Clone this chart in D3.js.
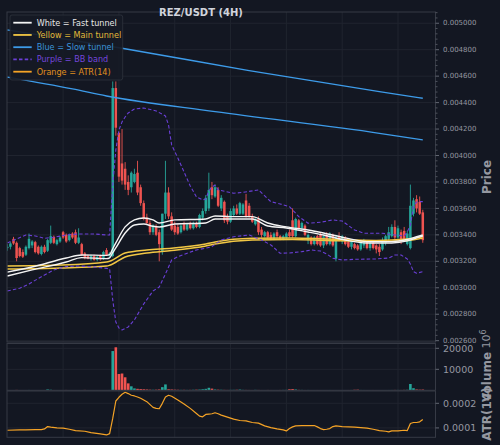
<!DOCTYPE html>
<html><head><meta charset="utf-8">
<script src="https://cdn.jsdelivr.net/npm/d3@7"></script>
<style>html,body{margin:0;padding:0;background:#131722;}svg{display:block;}</style>
</head><body><svg id="c" width="500" height="445"></svg>
<script>
// ---------------- DATA ----------------
const title = "REZ/USDT (4H)";
const PRICE_UNIT = 1e-6; // OHLC arrays below are in micro-USDT
const open  = [3300,3310,3370,3340,3300,3270,3250,3300,3320,3345,3310,3255,3310,3280,3340,3385,3330,3350,3420,3400,3360,3410,3420,3340,3330,3260,3240,3215,3240,3210,3240,3220,3285,3240,
 3240,4510,4170,3940,3900,3800,3760,3800,3870,3760,3640,3530,3490,3420,3460,3420,3270,3560,3720,3540,3470,3460,3420,3480,3440,3490,3450,3490,3460,3530,3580,3600,3760,3690,3740,3600,3650,3540,3500,3550,3600,3560,3560,3660,3620,3540,3480,3520,3440,3390,3420,3400,3370,3420,3390,3370,3380,3420,3510,3390,3510,3450,3470,3360,3380,3330,3390,3400,3320,3400,3330,3400,3220,3390,3350,3380,3350,3310,3330,3320,3290,3320,3350,3300,3340,3320,3310,3290,3340,3370,3390,3460,3380,3420,3430,3330,3300,3560,3670,3650,3570];
const high  = [3330,3345,3385,3350,3310,3290,3320,3410,3360,3355,3320,3320,3325,3370,3470,3395,3370,3390,3430,3410,3410,3420,3440,3450,3340,3270,3250,3250,3250,3245,3250,3280,3300,3270,
 4560,4560,4180,4200,3950,3850,3880,3900,3960,3780,3660,3560,3510,3480,3480,3440,3560,3960,3760,3570,3500,3480,3480,3500,3490,3500,3500,3500,3560,3600,3700,3870,3800,3780,3760,3700,3660,3560,3600,3620,3630,3650,3640,3710,3640,3560,3530,3540,3460,3430,3430,3420,3420,3440,3400,3400,3420,3440,3600,3530,3520,3500,3480,3410,3390,3390,3400,3420,3400,3420,3420,3410,3400,3420,3400,3390,3370,3360,3340,3330,3360,3370,3360,3350,3350,3330,3330,3380,3400,3460,3480,3510,3470,3440,3460,3430,3780,3680,3700,3690,3590];
const low   = [3280,3290,3325,3200,3230,3225,3240,3290,3300,3260,3250,3245,3260,3270,3330,3330,3320,3340,3370,3340,3350,3370,3330,3330,3240,3215,3215,3205,3205,3200,3205,3210,3240,3225,
 3230,4150,3800,3780,3740,3700,3720,3790,3700,3620,3510,3480,3400,3400,3390,3200,3250,3520,3520,3430,3400,3400,3410,3430,3430,3440,3440,3450,3450,3510,3560,3580,3670,3680,3610,3580,3490,3480,3490,3540,3550,3550,3550,3530,3530,3490,3470,3400,3380,3380,3370,3360,3360,3370,3360,3360,3370,3380,3380,3380,3440,3430,3390,3330,3320,3320,3320,3310,3300,3320,3320,3310,3200,3350,3330,3320,3300,3290,3290,3280,3280,3300,3290,3280,3290,3260,3240,3280,3320,3350,3380,3360,3370,3330,3350,3320,3290,3540,3570,3550,3340];
const close = [3310,3335,3335,3225,3240,3235,3310,3370,3350,3270,3260,3310,3270,3360,3390,3340,3360,3380,3380,3350,3400,3380,3340,3380,3250,3225,3220,3240,3210,3235,3215,3270,3245,3260,
 4510,4210,3840,3810,3780,3740,3870,3860,3720,3640,3520,3490,3420,3470,3400,3330,3560,3720,3540,3440,3420,3410,3470,3440,3480,3450,3490,3460,3550,3580,3680,3740,3700,3760,3620,3680,3510,3500,3580,3600,3560,3640,3630,3540,3540,3500,3520,3420,3400,3420,3380,3370,3410,3390,3370,3390,3410,3390,3390,3520,3450,3490,3400,3400,3330,3380,3330,3320,3390,3330,3410,3320,3380,3360,3390,3330,3310,3350,3300,3290,3340,3360,3300,3340,3300,3290,3270,3360,3390,3420,3460,3380,3450,3350,3360,3410,3620,3660,3600,3560,3360];
const volume = [100,120,90,180,140,110,100,160,130,100,90,120,110,400,250,
 150,120,100,130,160,110,90,140,120,100,180,130,110,90,120,100,130,150,160,
 18700,20500,7760,8000,6200,3300,1900,900,700,600,500,400,300,250,300,400,1500,2800,500,400,
 300,250,200,220,180,200,250,300,350,500,700,1200,800,400,300,250,200,180,200,220,250,350,
 200,180,160,150,200,170,150,140,160,150,130,140,160,180,200,500,600,400,
 200,180,150,160,140,130,150,140,120,130,150,140,130,120,140,130,150,160,250,300,
 160,150,140,130,150,140,130,120,140,150,160,180,170,160,200,250,3000,1000,400,300,350];
// indicator readings: [candle index, value]
const fastIdx   = [0,8,19,24,32,33,34,35,38,41,44,47,49,54,64,67,72,79,84,90,97,102,109,116,124,129,132,134];
const fastUpper = [0.003118,0.003157,0.003225,0.003248,0.003245,0.003250,0.003295,0.003339,0.003460,0.003513,0.003528,0.003513,0.003490,0.003513,0.003520,0.003543,0.003538,0.003538,0.003490,0.003460,0.003437,0.003414,0.003377,0.003349,0.003349,0.003365,0.003386,0.003399];
const fastLower = [0.003089,0.003135,0.003195,0.003228,0.003220,0.003226,0.003265,0.003301,0.003414,0.003475,0.003482,0.003465,0.003460,0.003482,0.003490,0.003520,0.003520,0.003520,0.003467,0.003452,0.003422,0.003399,0.003361,0.003339,0.003339,0.003355,0.003377,0.003392];
const mainIdx   = [0,17,32,33,38,45,53,64,67,79,92,103,119,129,134];
const mainUpper = [0.003165,0.003172,0.003195,0.003200,0.003263,0.003286,0.003299,0.003331,0.003346,0.003374,0.003377,0.003369,0.003358,0.003369,0.003388];
const mainLower = [0.003142,0.003150,0.003165,0.003170,0.003233,0.003263,0.003282,0.003316,0.003331,0.003361,0.003365,0.003358,0.003350,0.003358,0.003377];
const slowUpIdx  = [0,37,78,120,134];
const slowUpper  = [0.004949,0.004811,0.004642,0.004483,0.004433];
const slowLowIdx = [0,21,32,67,120,134];
const slowLower  = [0.004592,0.004503,0.004450,0.004332,0.004168,0.004118];
const bbUpIdx = [0,6,9,12,15,19,23,28,32,33,34,35,36,37,38,39,41,44,48,51,52,53,55,57,59,61,63,64,65,66,67,68,73,76,81,85,88,91,94,97,101,105,108,112,115,121,125,128,129,130,131,132,133,134];
const bbUpper = [0.003339,0.003399,0.003392,0.003374,0.003382,0.003399,0.003407,0.003407,0.003399,0.003399,0.003777,0.004042,0.004193,0.004254,0.004291,0.004322,0.004352,0.004359,0.004337,0.004299,0.004231,0.004080,0.003981,0.003876,0.003770,0.003687,0.003664,0.003671,0.003732,0.003762,0.003777,0.003740,0.003715,0.003721,0.003740,0.003651,0.003634,0.003613,0.003538,0.003488,0.003495,0.003513,0.003505,0.003437,0.003412,0.003412,0.003399,0.003392,0.003422,0.003475,0.003611,0.003649,0.003651,0.003651];
const bbLowIdx = [0,4,7,11,15,19,23,28,32,33,34,35,36,37,39,41,44,47,49,51,53,55,58,61,64,66,69,73,78,82,85,88,91,95,98,101,103,105,108,112,119,123,125,127,129,130,131,132,134];
const bbLower = [0.002976,0.002996,0.003029,0.003084,0.003135,0.003160,0.003165,0.003157,0.003147,0.003142,0.002908,0.002741,0.002696,0.002681,0.002704,0.002757,0.002878,0.002976,0.003006,0.003104,0.003210,0.003235,0.003261,0.003286,0.003299,0.003311,0.003361,0.003386,0.003399,0.003361,0.003324,0.003261,0.003263,0.003273,0.003286,0.003278,0.003256,0.003223,0.003210,0.003215,0.003218,0.003225,0.003248,0.003248,0.003218,0.003180,0.003122,0.003110,0.003122];
const atrIdx = [0,4,6,9,11,12,13,14,16,18,20,22,25,27,30,32,33,34,35,36,37,38,39,40,41,42,43,45,47,48,49,50,51,52,53,55,57,59,61,62,63,64,65,66,67,68,69,71,73,75,77,79,81,83,85,87,89,90,91,92,93,95,97,99,100,101,102,103,104,105,106,108,110,112,114,116,118,120,122,123,124,126,128,129,130,131,132,133,134];
const atrVal = [0.0000906,0.0000919,0.0000919,0.0000933,0.0000933,0.0000960,0.0001056,0.0001029,0.0001001,0.0000988,0.0000947,0.0000892,0.0000865,0.0000810,0.0000755,0.0000714,0.0000769,0.0001384,0.0002094,0.0002245,0.0002368,0.0002450,0.0002395,0.0002327,0.0002299,0.0002258,0.0002204,0.0002067,0.0001835,0.0001794,0.0001780,0.0001999,0.0002258,0.0002327,0.0002286,0.0002135,0.0001971,0.0001794,0.0001589,0.0001480,0.0001452,0.0001548,0.0001561,0.0001575,0.0001616,0.0001575,0.0001520,0.0001439,0.0001357,0.0001302,0.0001288,0.0001220,0.0001193,0.0001083,0.0001015,0.0000960,0.0000919,0.0000878,0.0000974,0.0001042,0.0001083,0.0001097,0.0001097,0.0001097,0.0001042,0.0000974,0.0000933,0.0000947,0.0000974,0.0001056,0.0001083,0.0001056,0.0001042,0.0001029,0.0001015,0.0000988,0.0000947,0.0000892,0.0000865,0.0000837,0.0000878,0.0000878,0.0000906,0.0000892,0.0001179,0.0001220,0.0001220,0.0001247,0.0001343];
const timeGridIdx = [18,36,54,72,90,108,126];
const priceTicks = [0.0026,0.0028,0.0030,0.0032,0.0034,0.0036,0.0038,0.0040,0.0042,0.0044,0.0046,0.0048,0.0050];
const volumeTicks = [10000,20000];
const atrTicks = [0.0001,0.0002];
const legendLabels = ["White = Fast tunnel","Yellow = Main tunnel","Blue = Slow tunnel","Purple = BB band","Orange = ATR(14)"];

// ---------------- STYLE ----------------
const C = {bg:"#131722", border:"#363a45", grid:"#20242f", text:"#9598a1", title:"#d1d4dc",
  up:"#26a69a", down:"#ef5350", white:"#f4f4f4", yellow:"#f2c744", blue:"#3d9be9", purple:"#6a3fd6", orange:"#f5a326"};
const legendColors = ["#e8e8e8","#e3b93a","#3b93d8","#7446dc","#e0901e"];
const FONT = "'DejaVu Sans', sans-serif";

const svg = d3.select("#c");
const PL=7, PR=435.5, MT=12, MB=342, VT=343.5, VB=390.3, AT=391, AB=437.3;

const x  = d3.scaleLinear().domain([-0.1,138.1]).range([PL,PR]);
const yP = d3.scaleLinear().domain([0.00259,0.005085]).range([MB,MT]);
const yV = d3.scaleLinear().domain([0,22300]).range([VB,VT]);
const yA = d3.scaleLinear().domain([0.0000619,0.00025]).range([AB,AT]);

svg.append("rect").attr("width",500).attr("height",445).attr("fill",C.bg);
const defs = svg.append("defs");
[["cm",MT,MB],["cv",VT,VB],["ca",AT,AB]].forEach(([id,t,b])=>{
  defs.append("clipPath").attr("id",id).append("rect").attr("x",PL).attr("y",t).attr("width",PR-PL).attr("height",b-t);
});

// grids
const grid = svg.append("g").attr("stroke",C.grid).attr("stroke-width",1);
[[MT,MB],[VT,VB],[AT,AB]].forEach(([t,b])=>{
  timeGridIdx.forEach(i=>grid.append("line").attr("x1",x(i)).attr("x2",x(i)).attr("y1",t).attr("y2",b));
});
priceTicks.forEach(v=>grid.append("line").attr("x1",PL).attr("x2",PR).attr("y1",yP(v)).attr("y2",yP(v)));
volumeTicks.forEach(v=>grid.append("line").attr("x1",PL).attr("x2",PR).attr("y1",yV(v)).attr("y2",yV(v)));
atrTicks.forEach(v=>grid.append("line").attr("x1",PL).attr("x2",PR).attr("y1",yA(v)).attr("y2",yA(v)));

// candles
const main = svg.append("g").attr("clip-path","url(#cm)");
const idx = d3.range(close.length);
const col = i => close[i] >= open[i] ? C.up : C.down;
main.selectAll(".wick").data(idx).join("line")
  .attr("x1",i=>x(i)).attr("x2",i=>x(i))
  .attr("y1",i=>yP(high[i]*PRICE_UNIT)).attr("y2",i=>yP(low[i]*PRICE_UNIT))
  .attr("stroke",col).attr("stroke-width",0.9);
main.selectAll(".body").data(idx).join("rect")
  .attr("x",i=>x(i)-1.25).attr("width",2.5)
  .attr("y",i=>yP(Math.max(open[i],close[i])*PRICE_UNIT))
  .attr("height",i=>Math.max(0.8, Math.abs(yP(open[i]*PRICE_UNIT)-yP(close[i]*PRICE_UNIT))))
  .attr("fill",col);

// indicator lines
function series(ix, vals, scale, curve){
  return d3.line().x((d,k)=>x(ix[k])).y(d=>scale(d)).curve(curve||d3.curveMonotoneX)(vals);
}
function drawLine(g, ix, vals, scale, color, w, dash, curve){
  g.append("path").attr("d",series(ix,vals,scale,curve)).attr("fill","none")
   .attr("stroke",color).attr("stroke-width",w).attr("stroke-dasharray",dash||null)
   .attr("stroke-linejoin","round");
}
drawLine(main, slowUpIdx, slowUpper, yP, C.blue, 1.3);
drawLine(main, slowLowIdx, slowLower, yP, C.blue, 1.3);
drawLine(main, mainIdx, mainUpper, yP, C.yellow, 1.5);
drawLine(main, mainIdx, mainLower, yP, C.yellow, 1.5);
drawLine(main, fastIdx, fastUpper, yP, C.white, 1.4);
drawLine(main, fastIdx, fastLower, yP, C.white, 1.4);
drawLine(main, bbUpIdx, bbUpper, yP, C.purple, 1.1, "3.5,2.2", d3.curveLinear);
drawLine(main, bbLowIdx, bbLower, yP, C.purple, 1.1, "3.5,2.2", d3.curveLinear);

// volume
const vol = svg.append("g").attr("clip-path","url(#cv)");
vol.selectAll("rect").data(idx).join("rect")
  .attr("x",i=>x(i)-1.3).attr("width",2.6)
  .attr("y",i=>yV(volume[i])).attr("height",i=>VB-yV(volume[i]))
  .attr("fill",col);

// ATR
const atr = svg.append("g").attr("clip-path","url(#ca)");
drawLine(atr, atrIdx, atrVal, yA, C.orange, 1.2, null, d3.curveLinear);

// panel borders
[[MT,MB],[VT,VB],[AT,AB]].forEach(([t,b])=>{
  svg.append("rect").attr("x",PL).attr("y",t).attr("width",PR-PL).attr("height",b-t)
    .attr("fill","none").attr("stroke",C.border).attr("stroke-width",1);
});

// right axes
function rightAxis(scale, ticks, fmt, size, minor, dy){
  const g = svg.append("g").attr("font-family",FONT).attr("font-size",size).attr("fill",C.text);
  if(minor){
    minor.forEach(v=>g.append("line").attr("x1",PR).attr("x2",PR+2).attr("y1",scale(v)).attr("y2",scale(v)).attr("stroke","#5d616b").attr("stroke-width",0.8));
  }
  ticks.forEach(v=>{
    g.append("line").attr("x1",PR).attr("x2",PR+3.5).attr("y1",scale(v)).attr("y2",scale(v)).attr("stroke","#6b6f7a").attr("stroke-width",0.9);
    g.append("text").attr("x",443).attr("y",scale(v)).attr("dy",dy||"0.36em").text(fmt(v));
  });
}
const minorPrice = d3.range(0.00260, 0.00508, 0.00004).filter(v=>Math.abs(Math.round(v/0.0002)*0.0002 - v) > 1e-7);
rightAxis(yP, priceTicks, d3.format(".6f"), 7, minorPrice, "0.3em");
rightAxis(yV, volumeTicks, d3.format("d"), 9.5, null, "0.4em");
rightAxis(yA, atrTicks, d3.format(".4f"), 9.5);

// axis labels
function vLabel(txt, cx, cy, bold){
  return svg.append("text").attr("transform",`translate(${cx},${cy}) rotate(-90)`)
    .attr("text-anchor","middle").attr("font-family",FONT).attr("font-size",12)
    .attr("font-weight",bold?"bold":"normal").attr("fill",C.text).text(txt);
}
vLabel("Price", 491, 177, true);
vLabel("Volume", 491, 377, true);
vLabel("ATR(14)", 491, 414, true);
const off = svg.append("text").attr("transform","translate(490,339) rotate(-90)")
  .attr("text-anchor","middle").attr("font-family",FONT).attr("font-size",11).attr("fill",C.text);
off.append("tspan").text("10");
off.append("tspan").attr("font-size",8).attr("dy","-0.5em").text("6");

// title
svg.append("text").attr("x",201).attr("y",15.5).attr("text-anchor","middle")
  .attr("font-family",FONT).attr("font-weight","bold").attr("font-size",10)
  .attr("fill",C.title).text(title);

// legend
const lg = svg.append("g");
lg.append("rect").attr("x",10).attr("y",15).attr("width",112.7).attr("height",65).attr("rx",2)
  .attr("fill","#161a25").attr("fill-opacity",0.92).attr("stroke","#2f333e").attr("stroke-width",0.8);
const handleColors = [C.white, C.yellow, C.blue, C.purple, C.orange];
legendLabels.forEach((t,k)=>{
  const yy = 22.7 + k*12.25;
  lg.append("line").attr("x1",13.3).attr("x2",31.7).attr("y1",yy).attr("y2",yy)
    .attr("stroke",handleColors[k]).attr("stroke-width",1.8)
    .attr("stroke-dasharray",k===3?"3.5,2.2":null);
  lg.append("text").attr("x",36.7).attr("y",yy).attr("dy","0.35em")
    .attr("font-family",FONT).attr("font-size",8.1).attr("fill",legendColors[k]).text(t);
});
</script></body></html>
